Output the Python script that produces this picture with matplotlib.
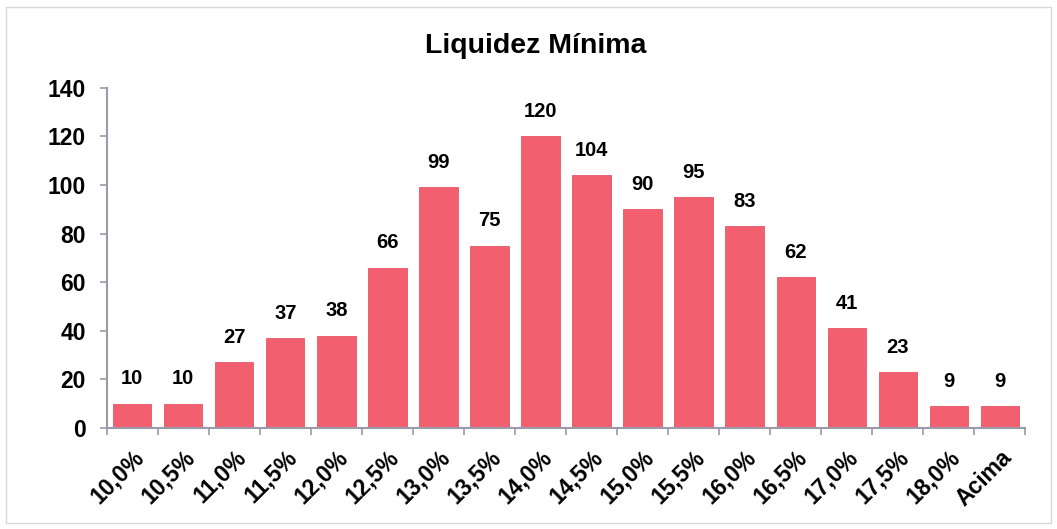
import matplotlib
matplotlib.use("Agg")
import matplotlib.pyplot as plt
from matplotlib.patches import Rectangle

categories = ["10,0%", "10,5%", "11,0%", "11,5%", "12,0%", "12,5%", "13,0%", "13,5%",
              "14,0%", "14,5%", "15,0%", "15,5%", "16,0%", "16,5%", "17,0%", "17,5%",
              "18,0%", "Acima"]
counts = [10, 10, 27, 37, 38, 66, 99, 75, 120, 104, 90, 95, 83, 62, 41, 23, 9, 9]
y_ticks = [0, 20, 40, 60, 80, 100, 120, 140]
title = "Liquidez Mínima"

plt.rcParams["font.family"] = ["Liberation Sans", "DejaVu Sans"]

fig = plt.figure(figsize=(10.57, 5.29), dpi=100)
ax = fig.add_axes([0.101, 0.191, 0.869, 0.643])

bar_color = "#F2606F"
x = list(range(len(categories)))
ax.bar(x, counts, width=0.75, color=bar_color, edgecolor="#E8566A", linewidth=0.6)

for xi, v in zip(x, counts):
    ax.annotate(str(v), (xi, v), xytext=(0, 11), textcoords="offset points",
                ha="center", va="bottom", fontsize=14.5, fontweight="bold", color="black")

ax.set_xlim(-0.5, len(categories) - 0.5)
ax.set_ylim(0, 140)
ax.set_yticks(y_ticks)
ax.set_yticklabels([str(t) for t in y_ticks], fontsize=16.5, fontweight="bold")

ax.set_xticks(x)
ax.set_xticklabels(categories, rotation=45, ha="right", rotation_mode="anchor",
                   fontsize=16.5, fontweight="bold")
ax.tick_params(axis="x", length=0, pad=13)
ax.set_xticks([i + 0.5 for i in range(-1, len(categories))], minor=True)
ax.tick_params(axis="x", which="minor", length=5, color="#9A9AA8", width=1.2, direction="out")
ax.tick_params(axis="y", length=5, color="#9A9AA8", width=1.2, pad=10)

for side in ["top", "right"]:
    ax.spines[side].set_visible(False)
for side in ["left", "bottom"]:
    ax.spines[side].set_color("#9A9AA8")
    ax.spines[side].set_linewidth(1.5)

fig.text(0.507, 0.913, title, ha="center", va="center", fontsize=20.5, fontweight="bold")

fig.patches.append(Rectangle((0.006, 0.012), 0.988, 0.975, transform=fig.transFigure,
                             fill=False, edgecolor="#D8D8D8", linewidth=1.0))

fig.savefig("out.png", dpi=100, facecolor="white")
